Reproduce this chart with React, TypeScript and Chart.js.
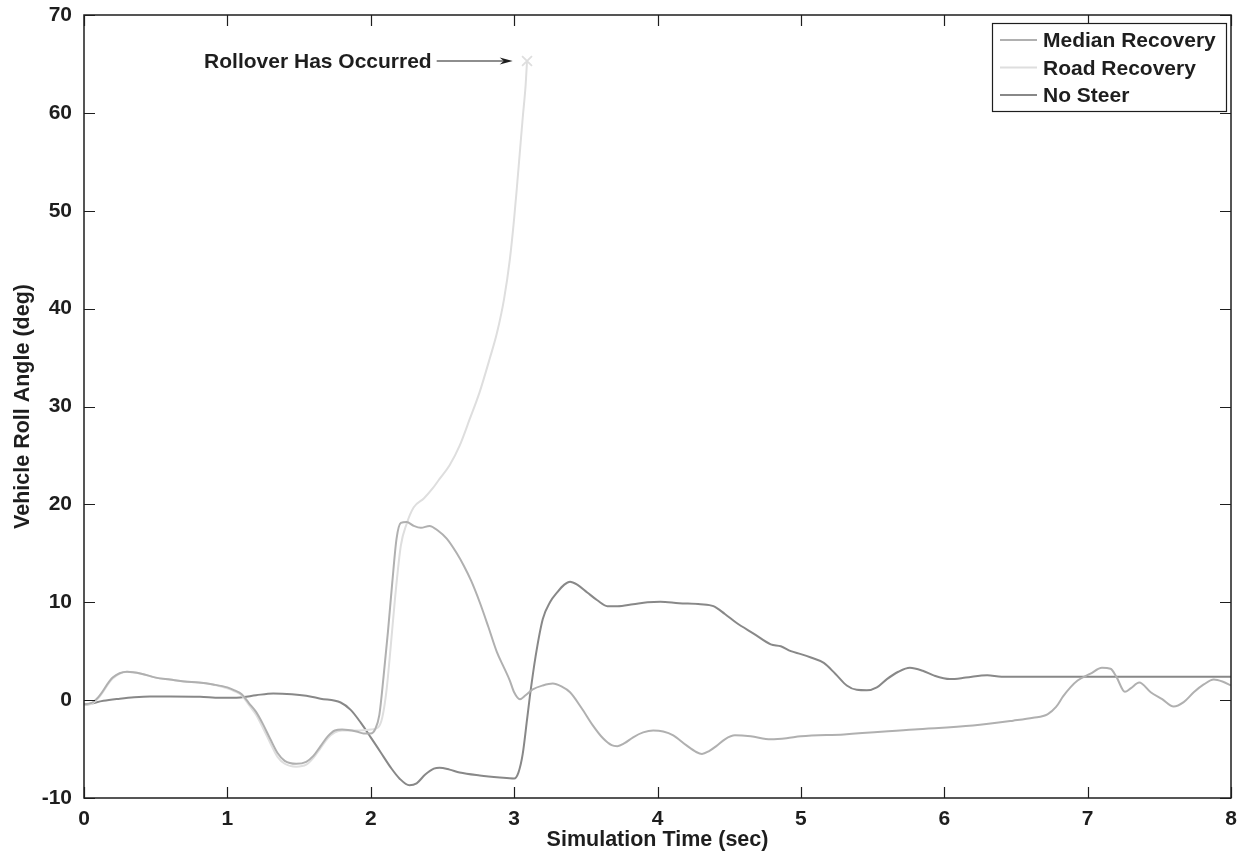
import React, { useEffect, useRef } from 'react';
import { Chart, registerables } from 'chart.js';

Chart.register(...registerables);

const FONT = '"Liberation Sans", Arial, Helvetica, sans-serif';
const INK = '#1e1e1e';

const seriesNames = ['Median Recovery', 'Road Recovery', 'No Steer'];
const seriesColors = ['#b0b0b0', '#dedede', '#888888'];

const xTickValues = [0, 1, 2, 3, 4, 5, 6, 7, 8];
const yTickValues = [-10, 0, 10, 20, 30, 40, 50, 60, 70];

const medianT = [0, 0.05, 0.1, 0.2, 0.3, 0.4, 0.5, 0.6, 0.7, 0.8, 0.9, 1.0, 1.05, 1.1, 1.15, 1.2, 1.25, 1.3, 1.35, 1.4, 1.48, 1.55, 1.6, 1.65, 1.7, 1.75, 1.8, 1.9, 1.95, 2.0, 2.03, 2.06, 2.09, 2.12, 2.15, 2.18, 2.21, 2.25, 2.3, 2.35, 2.41, 2.47, 2.53, 2.6, 2.65, 2.7, 2.76, 2.82, 2.88, 2.93, 2.97, 3.0, 3.04, 3.08, 3.13, 3.2, 3.27, 3.33, 3.39, 3.47, 3.55, 3.62, 3.68, 3.72, 3.77, 3.83, 3.9, 3.97, 4.04, 4.11, 4.2, 4.27, 4.31, 4.36, 4.41, 4.47, 4.54, 4.65, 4.79, 4.9, 5.0, 5.3, 5.79, 6.2, 6.48, 6.62, 6.72, 6.78, 6.83, 6.88, 6.93, 7.02, 7.1, 7.16, 7.2, 7.26, 7.3, 7.36, 7.44, 7.52, 7.6, 7.67, 7.74, 7.81, 7.88, 7.94, 8.0];
const medianV = [-0.4, -0.3, 0.3, 2.3, 2.9, 2.7, 2.3, 2.1, 1.9, 1.8, 1.6, 1.3, 1.0, 0.6, -0.3, -1.2, -2.5, -4.0, -5.4, -6.2, -6.5, -6.3, -5.7, -4.7, -3.7, -3.1, -3.0, -3.2, -3.4, -3.4, -3.0, -1.5, 2.5, 7.0, 12.0, 16.5, 18.1, 18.2, 17.8, 17.6, 17.8, 17.3, 16.5, 15.0, 13.7, 12.2, 10.0, 7.5, 4.9, 3.3, 2.0, 0.8, 0.1, 0.5, 1.1, 1.5, 1.7, 1.4, 0.8, -0.8, -2.6, -3.9, -4.6, -4.7, -4.4, -3.8, -3.3, -3.1, -3.2, -3.6, -4.6, -5.3, -5.5, -5.2, -4.7, -4.0, -3.6, -3.7, -4.0, -3.9, -3.7, -3.5, -3.0, -2.6, -2.1, -1.8, -1.45, -0.7, 0.4, 1.3, 2.0, 2.7, 3.3, 3.2, 2.4, 0.85, 1.2, 1.8, 0.8, 0.1, -0.65, -0.2, 0.8, 1.6, 2.1, 1.9, 1.5];

const roadT = [0, 0.05, 0.1, 0.2, 0.3, 0.4, 0.5, 0.6, 0.7, 0.8, 0.9, 1.0, 1.05, 1.1, 1.15, 1.2, 1.25, 1.3, 1.35, 1.4, 1.48, 1.55, 1.6, 1.65, 1.7, 1.75, 1.8, 1.9, 2.0, 2.05, 2.08, 2.11, 2.14, 2.17, 2.21, 2.25, 2.3, 2.37, 2.43, 2.48, 2.55, 2.62, 2.69, 2.76, 2.83, 2.88, 2.93, 2.97, 3.0, 3.02, 3.04, 3.06, 3.08, 3.09];
const roadV = [-0.5, -0.4, 0.2, 2.2, 2.9, 2.7, 2.3, 2.1, 1.9, 1.8, 1.6, 1.2, 0.9, 0.5, -0.5, -1.5, -2.9, -4.4, -5.8, -6.5, -6.8, -6.6, -5.9, -4.9, -3.9, -3.3, -3.1, -3.1, -3.0, -2.8, -1.8, 1.0, 5.6, 10.5, 15.8, 18.0, 19.7, 20.6, 21.6, 22.6, 24.0, 26.0, 28.7, 31.5, 34.9, 37.5, 41.0, 45.0, 49.2, 52.5, 56.0, 59.5, 62.8, 65.3];

const noSteerT = [0, 0.05, 0.135, 0.25, 0.35, 0.46, 0.6, 0.81, 0.95, 1.09, 1.2, 1.32, 1.45, 1.55, 1.65, 1.79, 1.86, 1.93, 2.0, 2.07, 2.14, 2.2, 2.27, 2.32, 2.38, 2.44, 2.48, 2.55, 2.62, 2.76, 2.9, 3.0, 3.03, 3.06, 3.09, 3.11, 3.15, 3.2, 3.25, 3.3, 3.35, 3.39, 3.44, 3.51, 3.58, 3.65, 3.72, 3.83, 3.93, 4.02, 4.15, 4.3, 4.39, 4.47, 4.55, 4.67, 4.79, 4.86, 4.93, 5.0, 5.07, 5.16, 5.24, 5.32, 5.39, 5.46, 5.53, 5.6, 5.68, 5.76, 5.85, 5.93, 6.04, 6.15, 6.3, 6.4, 7.0, 8.0];
const noSteerV = [-0.5, -0.35, -0.07, 0.15, 0.3, 0.38, 0.38, 0.35, 0.25, 0.28, 0.5, 0.68, 0.6, 0.44, 0.15, -0.24, -1.0, -2.3, -3.8, -5.35, -6.9, -8.0, -8.7, -8.5, -7.6, -7.0, -6.9, -7.1, -7.4, -7.7, -7.9, -8.0, -7.4, -5.5, -2.0, 0.4, 4.5, 8.3, 10.0, 11.0, 11.8, 12.1, 11.8, 11.0, 10.2, 9.6, 9.6, 9.8, 10.0, 10.05, 9.9, 9.8, 9.6, 8.8, 7.9, 6.8, 5.7, 5.5, 5.0, 4.7, 4.35, 3.8, 2.7, 1.5, 1.05, 1.0, 1.3, 2.15, 2.9, 3.3, 3.0, 2.5, 2.15, 2.3, 2.55, 2.4, 2.4, 2.4];

const annotationText = 'Rollover Has Occurred';
const annotationTipT = 2.99;
const annotationTipV = 65.3;

const toPoints = (t: number[], v: number[]) => t.map((x, i) => ({ x, y: v[i] }));

const overlayPlugin = {
  id: 'overlay',
  afterDatasetsDraw(chart: any) {
    const { ctx, chartArea: a, scales } = chart;
    const sx = scales.x;
    const sy = scales.y;
    ctx.save();
    // frame
    ctx.strokeStyle = INK;
    ctx.lineWidth = 1.5;
    ctx.strokeRect(a.left, a.top, a.right - a.left, a.bottom - a.top);
    ctx.lineWidth = 1.2;
    const tl = 11;
    ctx.beginPath();
    xTickValues.forEach((v) => {
      const px = Math.round(sx.getPixelForValue(v)) + 0.5;
      ctx.moveTo(px, a.bottom);
      ctx.lineTo(px, a.bottom - tl);
      ctx.moveTo(px, a.top);
      ctx.lineTo(px, a.top + tl);
    });
    yTickValues.forEach((v) => {
      const py = Math.round(sy.getPixelForValue(v)) + 0.5;
      ctx.moveTo(a.left, py);
      ctx.lineTo(a.left + tl, py);
      ctx.moveTo(a.right, py);
      ctx.lineTo(a.right - tl, py);
    });
    ctx.stroke();

    // annotation
    const tipX = sx.getPixelForValue(annotationTipT);
    const tipY = sy.getPixelForValue(annotationTipV);
    const startX = tipX - 76;
    ctx.strokeStyle = INK;
    ctx.fillStyle = INK;
    ctx.lineWidth = 1.2;
    ctx.beginPath();
    ctx.moveTo(startX, tipY);
    ctx.lineTo(tipX - 9, tipY);
    ctx.stroke();
    ctx.beginPath();
    ctx.moveTo(tipX, tipY);
    ctx.lineTo(tipX - 13, tipY - 3.5);
    ctx.lineTo(tipX - 9, tipY);
    ctx.lineTo(tipX - 13, tipY + 3.5);
    ctx.closePath();
    ctx.fill();
    ctx.font = `bold 21px ${FONT}`;
    ctx.textAlign = 'right';
    ctx.textBaseline = 'middle';
    ctx.fillText(annotationText, startX - 5, tipY + 1.5);

    // legend
    const lx = 992;
    const ly = 23;
    const lw = 234;
    const lh = 88;
    ctx.fillStyle = '#ffffff';
    ctx.fillRect(lx, ly, lw, lh);
    ctx.strokeStyle = INK;
    ctx.lineWidth = 1.2;
    ctx.strokeRect(lx + 0.5, ly + 0.5, lw, lh);
    const rows = [40, 67.5, 95];
    seriesNames.forEach((name, i) => {
      const y = rows[i];
      ctx.strokeStyle = seriesColors[i];
      ctx.lineWidth = 2;
      ctx.beginPath();
      ctx.moveTo(lx + 8, y);
      ctx.lineTo(lx + 45, y);
      ctx.stroke();
      ctx.fillStyle = INK;
      ctx.font = `bold 21px ${FONT}`;
      ctx.textAlign = 'left';
      ctx.textBaseline = 'middle';
      ctx.fillText(name, lx + 51, y + 1.5);
    });
    ctx.restore();
  },
};

export default function App() {
  const canvasRef = useRef<HTMLCanvasElement | null>(null);

  useEffect(() => {
    document.body.style.margin = '0';
    const canvas = canvasRef.current;
    if (!canvas) return;
    const tickFont = { family: FONT, size: 21, weight: 'bold' as const };
    const titleFont = { family: FONT, size: 21.5, weight: 'bold' as const };
    const lastRoad = roadT.length - 1;
    const chart = new Chart(canvas, {
      type: 'line',
      data: {
        datasets: [
          {
            label: seriesNames[0],
            data: toPoints(medianT, medianV),
            borderColor: seriesColors[0],
            borderWidth: 2,
            pointRadius: 0,
            cubicInterpolationMode: 'monotone',
          },
          {
            label: seriesNames[1],
            data: toPoints(roadT, roadV),
            borderColor: seriesColors[1],
            borderWidth: 2,
            pointStyle: 'crossRot',
            pointRadius: (c: any) => (c.dataIndex === lastRoad ? 7 : 0),
            pointBorderColor: seriesColors[1],
            pointBorderWidth: 1.8,
            cubicInterpolationMode: 'monotone',
          },
          {
            label: seriesNames[2],
            data: toPoints(noSteerT, noSteerV),
            borderColor: seriesColors[2],
            borderWidth: 2,
            pointRadius: 0,
            cubicInterpolationMode: 'monotone',
          },
        ] as any,
      },
      options: {
        animation: false,
        responsive: true,
        maintainAspectRatio: false,
        layout: { padding: { top: 15, right: 13, left: 0, bottom: 0 } },
        plugins: {
          legend: { display: false },
          tooltip: { enabled: false },
        },
        scales: {
          x: {
            type: 'linear',
            min: 0,
            max: 8,
            ticks: { stepSize: 1, font: tickFont, color: INK, padding: 9, maxRotation: 0, autoSkip: false },
            grid: { display: false, drawTicks: false },
            border: { display: false },
            title: {
              display: true,
              text: 'Simulation Time (sec)',
              font: titleFont,
              color: INK,
              padding: { top: 0, bottom: 14 },
            },
            afterFit: (s: any) => {
              s.height = 69;
              s.paddingLeft = 0;
              s.paddingRight = 0;
            },
          },
          y: {
            type: 'linear',
            min: -10,
            max: 70,
            ticks: { stepSize: 10, font: tickFont, color: INK, padding: 12 },
            grid: { display: false, drawTicks: false },
            border: { display: false },
            title: {
              display: true,
              text: 'Vehicle Roll Angle (deg)',
              font: titleFont,
              color: INK,
              padding: { top: 10, bottom: 0 },
            },
            afterFit: (s: any) => {
              s.width = 84;
              s.paddingTop = 0;
              s.paddingBottom = 0;
            },
          },
        },
      } as any,
      plugins: [overlayPlugin],
    });
    return () => chart.destroy();
  }, []);

  return (
    <div style={{ width: 1244, height: 867, position: 'relative' }}>
      <canvas ref={canvasRef} />
    </div>
  );
}
